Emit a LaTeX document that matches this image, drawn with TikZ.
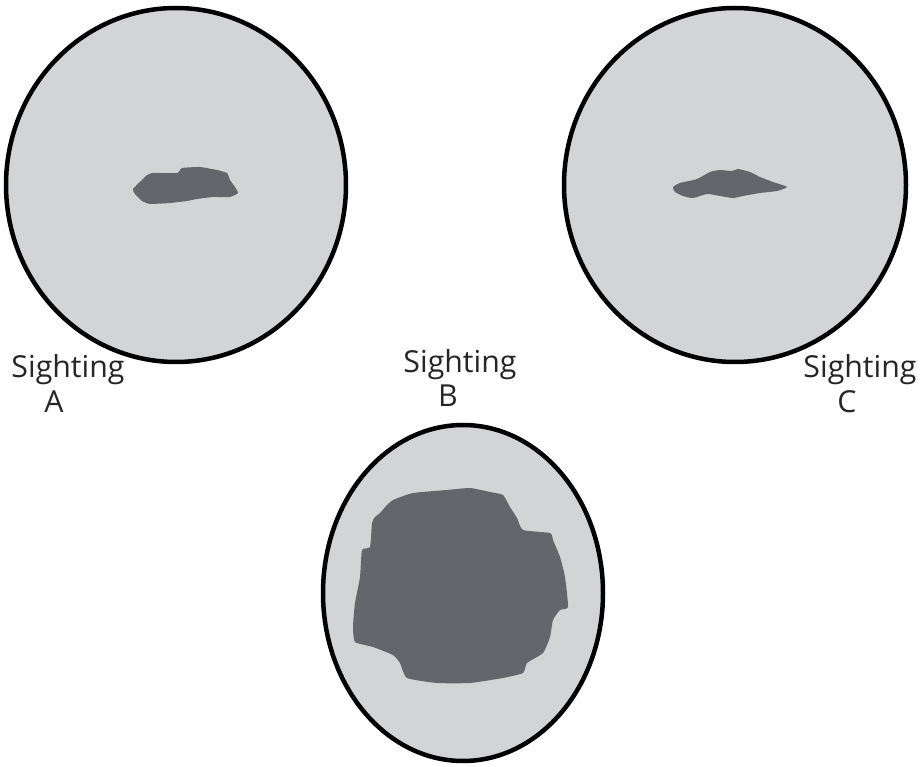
\documentclass[tikz,border=0pt]{standalone}
\usepackage{fontspec}
\setmainfont{Open Sans}
\definecolor{disc}{RGB}{211,212,214}
\definecolor{blob}{RGB}{101,102,107}
\tikzset{
  lens/.style={draw=black, line width=4.5pt, fill=disc},
  spot/.style={fill=blob, draw=none},
  lbl/.style={font=\fontsize{30.3}{35}\selectfont, anchor=base, inner sep=0pt, text=black!85}
}
\begin{document}
\begin{tikzpicture}[x=1pt,y=-1pt]
\useasboundingbox (0,0) rectangle (922,767);
% lenses
\draw[lens] (176,185) ellipse [x radius=170, y radius=177];
\draw[lens] (735,185) ellipse [x radius=171, y radius=177];
\draw[lens] (463,593) ellipse [x radius=140, y radius=168];
% blob A
\fill[spot] plot[smooth cycle, tension=0.25] coordinates {
 (133,189) (146,176) (152,173) (177,173) (182,168) (200,167) (217,170)
 (227,173) (230,180) (235,187) (238,193) (230,197) (213,197) (197,199)
 (187,201) (170,203) (150,204) (142,201) (135,194)};
% blob C
\fill[spot] plot[smooth cycle, tension=0.35] coordinates {
 (673,187) (680,183) (697,179) (710,172) (720,170) (732,171) (738,169)
 (750,172) (760,177) (773,182) (787,187) (777,191) (760,193) (743,196)
 (733,198) (720,196) (707,194) (693,198) (683,196) (675,192)};
% blob B
\fill[spot] plot[smooth cycle, tension=0.3] coordinates {
 (393,500) (413,493) (447,490) (470,488) (490,492) (503,495) (510,507)
 (517,518) (523,530) (550,533) (553,540) (560,557) (565,577) (568,607)
 (560,610) (553,620) (550,637) (543,653) (527,663) (523,673) (503,678)
 (470,683) (437,683) (407,678) (400,663) (393,655) (373,647) (355,642)
 (353,627) (355,603) (360,577) (362,550) (370,547) (372,523) (375,517)
 (380,513) (387,505)};
% labels
\node[lbl] (sa) at (68,378) {Sighting};
\node[lbl] (la) at (54,413) {A};
\node[lbl] (sb) at (460,373) {Sighting};
\node[lbl] (lb) at (448,407) {B};
\node[lbl] (sc) at (860,378) {Sighting};
\node[lbl] (lc) at (847,413) {C};
\end{tikzpicture}
\end{document}
